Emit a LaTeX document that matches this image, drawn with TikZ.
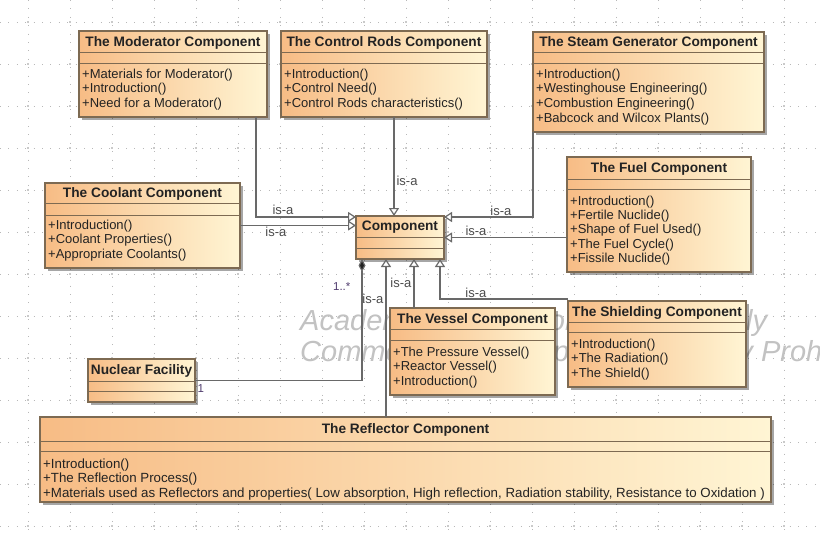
\documentclass[tikz,border=0pt]{standalone}
\usepackage{fontspec}
\setmainfont{Liberation Sans}
\usetikzlibrary{arrows.meta,shadows,calc}

\definecolor{boxL}{RGB}{247,188,133}
\definecolor{boxR}{RGB}{255,245,212}
\definecolor{boxEdge}{RGB}{125,106,82}
\definecolor{wire}{RGB}{105,105,105}
\definecolor{ink}{RGB}{35,35,35}
\definecolor{mult}{RGB}{80,60,110}

\tikzset{
  clsbox/.style={draw=boxEdge, line width=1.1pt, left color=boxL, right color=boxR,
    inner sep=0pt, outer sep=0pt,
    drop shadow={shadow xshift=2.5pt, shadow yshift=-2.5pt, fill=black, opacity=0.35}},
  clssep/.style={draw=boxEdge, line width=1pt},
  clstitle/.style={font=\bfseries\fontsize{13.7}{16}\selectfont, text=ink, inner sep=0pt, yshift=-1pt},
  clsmeth/.style={font=\fontsize{13}{14.6}\selectfont, text=ink, align=left,
    inner sep=0pt, anchor=north west},
  isa/.style={draw=wire, line width=1.2pt, -{Triangle[length=8pt,width=10pt,fill=white]}},
  owns/.style={draw=wire, line width=1.2pt, -{Diamond[length=13pt,width=7pt,fill=ink]}},
  isalbl/.style={font=\fontsize{13}{15}\selectfont, text=black!70, inner sep=1pt},
  multlbl/.style={font=\fontsize{11.5}{13}\selectfont, text=mult, inner sep=1pt},
  gridln/.style={draw=black!28, line width=0.9pt, dash pattern=on 0.9pt off 7.5pt},
  wmark/.style={font=\itshape\fontsize{29}{32}\selectfont, text=black!24, inner sep=0pt, anchor=base west},
}

% class frame: name, x1, y1, x2, y2, first separator, second separator, title
\newcommand\umlbox[8]{%
  \node[clsbox, anchor=north west, minimum width={#4-#2}, minimum height={#5-#3}] (#1) at (#2,#3) {};
  \draw[clssep] (#2,#6) -- (#4,#6) (#2,#7) -- (#4,#7);
  \node[clstitle] (#1-title) at ({(#2+#4)/2},{(#3+#6)/2}) {#8};
}

\begin{document}
\begin{tikzpicture}[x=1pt,y=-1pt]
\useasboundingbox (0,0) rectangle (820,533);
\fill[white] (0,0) rectangle (820,533);

% dotted drawing grid
\foreach \x in {28,70,...,784} \draw[gridln] (\x,0) -- (\x,533);
\foreach \y in {22,64,...,526} \draw[gridln] (0,\y) -- (820,\y);
\foreach \x in {28,70,...,784}
  \foreach \y in {22,64,...,526}
    \fill[black!42] (\x,\y) circle (0.9);

% tool watermark
\node[wmark] (wm1) at (300,330) {Academic Version for Teaching Only};
\node[wmark] (wm2) at (300,361) {Commercial Development is strictly Prohibited};

% classes
\umlbox{mod}{79}{31}{267}{117}{52}{63}{The Moderator Component}
\node[clsmeth] (mod-ops) at (82,68.5) {+Materials for Moderator()\\+Introduction()\\+Need for a Moderator()};

\umlbox{rods}{281}{31}{487}{117}{52}{63}{The Control Rods Component}
\node[clsmeth] (rods-ops) at (284,68.5) {+Introduction()\\+Control Need()\\+Control Rods characteristics()};

\umlbox{steam}{533}{32}{764}{132}{52}{63}{The Steam Generator Component}
\node[clsmeth, font=\fontsize{13}{14.7}\selectfont] (steam-ops) at (536,68.5) {+Introduction()\\+Westinghouse Engineering()\\+Combustion Engineering()\\+Babcock and Wilcox Plants()};

\umlbox{cool}{45}{183}{240}{268}{203}{215}{The Coolant Component}
\node[clsmeth] (cool-ops) at (48,219.5) {+Introduction()\\+Coolant Properties()\\+Appropriate Coolants()};

\umlbox{fuel}{567}{157}{751}{272}{179}{189}{The Fuel Component}
\node[clsmeth, font=\fontsize{13}{14.3}\selectfont] (fuel-ops) at (570,195.5) {+Introduction()\\+Fertile Nuclide()\\+Shape of Fuel Used()\\+The Fuel Cycle()\\+Fissile Nuclide()};

\umlbox{comp}{356}{216}{444}{259}{237}{248}{Component}

\umlbox{vessel}{390}{308}{555}{395}{329}{340}{The Vessel Component}
\node[clsmeth, font=\fontsize{13}{14.5}\selectfont] (vessel-ops) at (393,346.5) {+The Pressure Vessel()\\+Reactor Vessel()\\+Introduction()};

\umlbox{shield}{568}{301}{746}{387}{322}{332}{The Shielding Component}
\node[clsmeth, font=\fontsize{13}{14.5}\selectfont] (shield-ops) at (571,338.5) {+Introduction()\\+The Radiation()\\+The Shield()};

\umlbox{nucf}{88}{359}{195}{402}{381}{391}{Nuclear Facility}

\umlbox{refl}{40}{417}{771}{502}{441}{451}{The Reflector Component}
\node[clsmeth, font=\fontsize{13.3}{14.5}\selectfont] (refl-ops) at (43,458.5) {+Introduction()\\+The Reflection Process()\\+Materials used as Reflectors and properties( Low absorption, High reflection, Radiation stability, Resistance to Oxidation )};

% generalisations
\draw[isa] ($(mod.south west)+(177,0)$) |- ($(comp.north west)+(0,1)$)
  node[isalbl, pos=0.635, above, yshift=1pt] (mod-isa) {is-a};
\draw[isa] (cool.east) -- (cool.east -| comp.west)
  node[isalbl, pos=0.31, below] (cool-isa) {is-a};
\draw[isa] ($(rods.south west)+(113,0)$) -- ($(comp.north west)+(38,0)$)
  node[isalbl, pos=0.65, anchor=west, xshift=1pt] (rods-isa) {is-a};
\draw[isa] ($(steam.south west)+(0,0)$) |- ($(comp.north east)+(0,1)$)
  node[isalbl, pos=0.68, above] (steam-isa) {is-a};
\draw[isa] (fuel.west |- comp.east) -- (comp.east)
  node[isalbl, pos=0.74, above] (fuel-isa) {is-a};
\draw[isa] ($(shield.north west)+(0,-2)$) -| ($(comp.south east)+(-4,0)$)
  node[isalbl, pos=0.36, above] (shield-isa) {is-a};
\draw[isa] ($(vessel.north west)+(24,0)$) -- ($(comp.south west)+(58,0)$)
  node[isalbl, pos=0.51, anchor=east, xshift=-1pt] (vessel-isa) {is-a};
\draw[isa] ($(refl.north west)+(346,0)$) -- ($(comp.south west)+(30,0)$)
  node[isalbl, pos=0.75, anchor=east, xshift=-1pt] (refl-isa) {is-a};

% composition
\draw[owns] (nucf.east) -| ($(comp.south west)+(6,0)$)
  node[multlbl, pos=0, anchor=north west, xshift=1pt, yshift=-2pt] (nucf-mult) {1}
  node[multlbl, pos=0.885, anchor=east, xshift=-10pt] (comp-mult) {1..*};
\end{tikzpicture}
\end{document}
